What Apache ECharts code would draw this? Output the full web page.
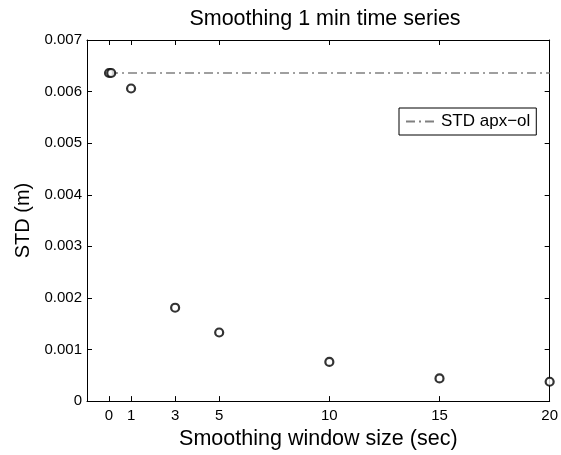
<!DOCTYPE html>
<html>
<head>
<meta charset="utf-8">
<script src="https://cdn.jsdelivr.net/npm/echarts@6/dist/echarts.min.js"></script>
<style>html,body{margin:0;padding:0;background:#fff}#c{width:561px;height:455px}</style>
</head>
<body>
<div id="c"></div>
<script>
const windowSizes = [0, 0.1, 1, 3, 5, 10, 15, 20];
const stdValues = [0.00636, 0.00636, 0.00606, 0.00181, 0.00133, 0.00076, 0.00044, 0.000375];
const refLineX = [0, 20];
const refLineY = [0.00636, 0.00636];
const xTicks = [0, 1, 3, 5, 10, 15, 20];
const refName = 'STD apx\u2212ol';

const FONT = 'Liberation Sans, Arial, Helvetica, sans-serif';
const chart = echarts.init(document.getElementById('c'), null, {renderer: 'canvas'});
const xBase = {
  type: 'value', min: -1, max: 20,
  splitLine: {show: false},
  axisLine: {show: true, onZero: false, lineStyle: {color: '#000', width: 1}},
  axisTick: {show: true, inside: true, length: 5, customValues: xTicks, lineStyle: {color: '#000'}},
};
const yBase = {
  type: 'value', min: 0, max: 0.007, interval: 0.001,
  splitLine: {show: false},
  axisLine: {show: true, onZero: false, lineStyle: {color: '#000', width: 1}},
  axisTick: {show: true, inside: true, length: 5, lineStyle: {color: '#000'}},
};
chart.setOption({
  animation: false,
  backgroundColor: '#fff',
  title: {
    text: 'Smoothing 1 min time series', left: 320, textAlign: 'center', top: 3,
    textStyle: {fontFamily: FONT, fontSize: 21.5, fontWeight: 'normal', color: '#000'}
  },
  grid: {left: 87, right: 8, top: 40, bottom: 47},
  legend: {
    data: [{name: refName, itemStyle: {opacity: 0}}], left: 399, top: 108, orient: 'vertical',
    borderColor: '#000', borderWidth: 1, backgroundColor: '#fff',
    padding: [5, 6, 5, 6], itemWidth: 30, itemHeight: 10, itemGap: 5,
    textStyle: {fontFamily: FONT, fontSize: 17, color: '#000'}
  },
  xAxis: [
    Object.assign({}, xBase, {
      position: 'bottom',
      axisLabel: {show: true, customValues: xTicks, margin: 7, color: '#000', fontFamily: FONT, fontSize: 15},
      name: 'Smoothing window size (sec)', nameLocation: 'middle', nameGap: 25,
      nameTextStyle: {fontFamily: FONT, fontSize: 21.5, color: '#000'}
    }),
    Object.assign({}, xBase, {position: 'top', axisLabel: {show: false}})
  ],
  yAxis: [
    Object.assign({}, yBase, {
      position: 'left',
      axisLabel: {show: true, margin: 5, color: '#000', fontFamily: FONT, fontSize: 15,
        formatter: v => v === 0 ? '0' : v.toFixed(3)},
      name: 'STD (m)', nameLocation: 'middle', nameGap: 52,
      nameTextStyle: {fontFamily: FONT, fontSize: 20, color: '#000'}
    }),
    Object.assign({}, yBase, {position: 'right', axisLabel: {show: false}})
  ],
  series: [
    {
      name: refName, type: 'line', xAxisIndex: 0, yAxisIndex: 0,
      data: refLineX.map((x, i) => [x, refLineY[i]]),
      symbol: 'none', z: 1,
      lineStyle: {color: '#808080', width: 1.5, type: [9, 4, 2, 4]},
      itemStyle: {color: '#808080'}
    },
    {
      name: 'points', type: 'scatter', xAxisIndex: 0, yAxisIndex: 0,
      data: windowSizes.map((x, i) => [x, stdValues[i]]),
      symbol: 'circle', symbolSize: 8, z: 3,
      itemStyle: {color: '#fff', borderColor: '#000', borderWidth: 2.2}
    }
  ]
});
</script>
</body>
</html>
